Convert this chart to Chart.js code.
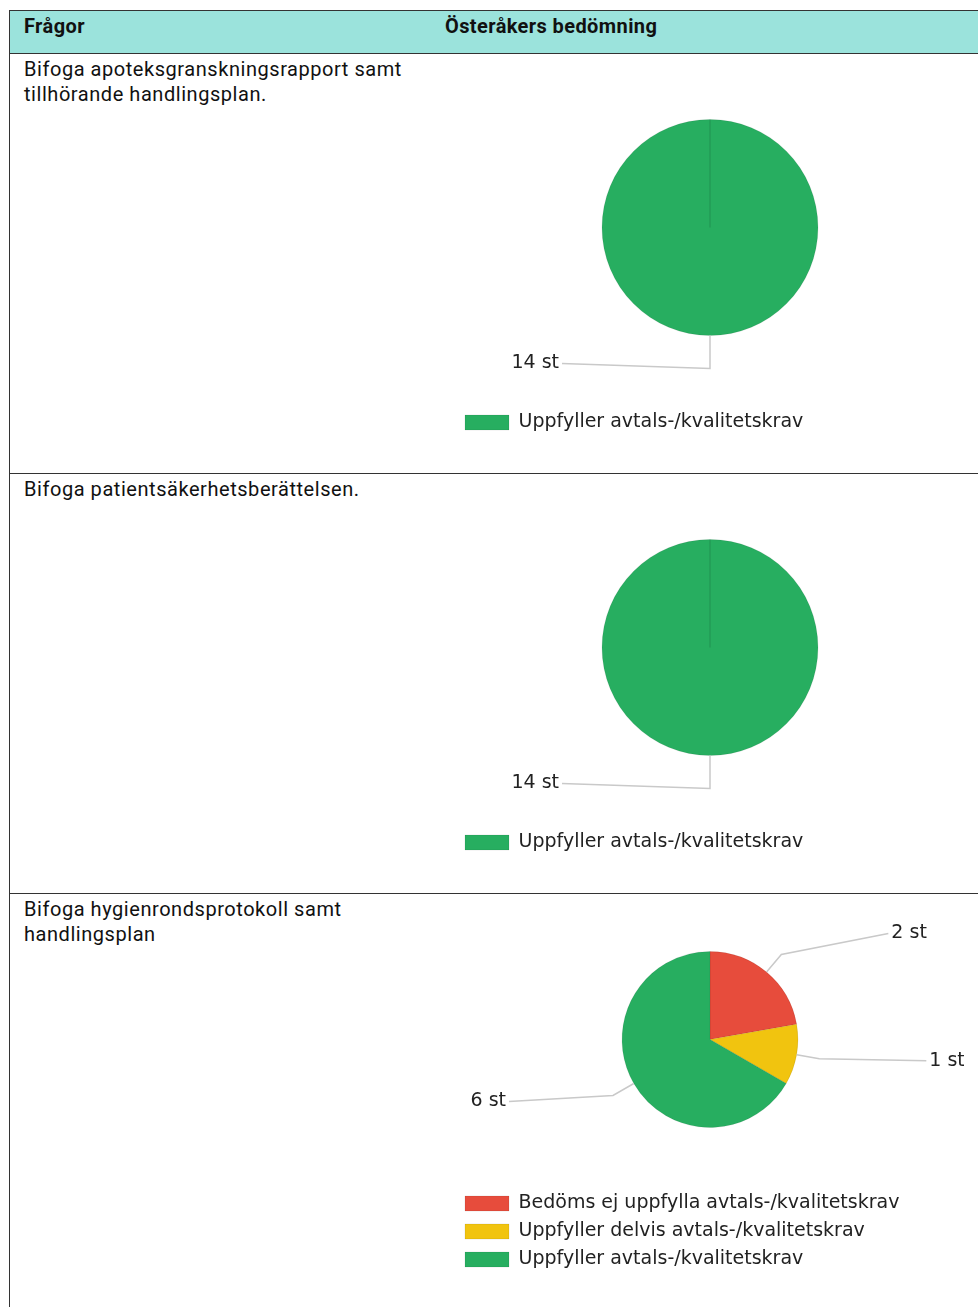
<!DOCTYPE html>
<html>
<head>
<meta charset="utf-8">
<script src="https://cdn.jsdelivr.net/npm/chart.js@4/dist/chart.umd.min.js"></script>
<style>
  body { margin: 0; background: #fff; width: 978px; height: 1307px; overflow: hidden; position: relative; font-family: Roboto, sans-serif; }
  .tbl { position: absolute; left: 9px; top: 10px; width: 1000px; height: 1310px; border-left: 1px solid #333; }
  .head { position: absolute; left: 0; top: 0; width: 100%; height: 42px; background: #9be3dc; border-top: 1px solid #333; border-bottom: 1px solid #333; font-weight: bold; font-size: 20px; letter-spacing: 0.4px; color: #111; }
  .head span { position: absolute; top: 3px; }
  .row { position: absolute; left: 0; width: 100%; border-bottom: 1px solid #333; }
  .q { position: absolute; left: 14px; top: 3px; font-size: 20px; letter-spacing: 0.55px; line-height: 25px; color: #111; }
  .box { position: absolute; }
</style>
</head>
<body>
<div class="tbl">
  <div class="head"><span style="left:14px">Frågor</span><span style="left:435px">Österåkers bedömning</span></div>
  <div class="row" style="top:44px;height:419px"><div class="q" id="q0"></div></div>
  <div class="row" style="top:464px;height:419px"><div class="q" id="q1"></div></div>
  <div class="row" style="top:884px;height:500px;border-bottom:none"><div class="q" id="q2"></div></div>
</div>
<div class="box" style="left:456px;top:51px;width:508px;height:391px"><canvas id="c0"></canvas></div>
<div class="box" style="left:456px;top:471px;width:508px;height:391px"><canvas id="c1"></canvas></div>
<div class="box" style="left:456px;top:894px;width:508px;height:385px"><canvas id="c2"></canvas></div>
<script>
// frågor i tabellen
var questions = [
  'Bifoga apoteksgranskningsrapport samt<br>tillhörande handlingsplan.',
  'Bifoga patientsäkerhetsberättelsen.',
  'Bifoga hygienrondsprotokoll samt<br>handlingsplan'
];

var labelsRed = 'Bedöms ej uppfylla avtals-/kvalitetskrav';
var labelsYellow = 'Uppfyller delvis avtals-/kvalitetskrav';
var labelsGreen = 'Uppfyller avtals-/kvalitetskrav';

var categories1 = [labelsGreen];
var values1 = [14];
var categories2 = [labelsGreen];
var values2 = [14];
var categories3 = [labelsRed, labelsYellow, labelsGreen];
var values3 = [2, 1, 6];

var colorMap = {};
colorMap[labelsRed] = '#e74c3c';
colorMap[labelsYellow] = '#f1c40f';
colorMap[labelsGreen] = '#27ae60';

for (var i = 0; i < questions.length; i++) {
  document.getElementById('q' + i).innerHTML = questions[i];
}

// etiketter med linjer, som i Excel
var leaderPlugin = {
  id: 'leader',
  afterDatasetsDraw: function(chart, args, opts) {
    var ctx = chart.ctx;
    var meta = chart.getDatasetMeta(0);
    var data = chart.data.datasets[0].data;
    ctx.save();
    meta.data.forEach(function(arc, i) {
      var p = arc.getProps(['x', 'y', 'startAngle', 'endAngle', 'outerRadius'], true);
      var mid = (p.startAngle + p.endAngle) / 2;
      var c = Math.cos(mid), s = Math.sin(mid);
      var x0 = p.x + c * p.outerRadius, y0 = p.y + s * p.outerRadius;
      var x1 = x0 + c * opts.ext[i], y1 = y0 + s * opts.ext[i];
      var dir = c > 0.01 ? 1 : -1;
      var x2 = x1 + dir * opts.run[i], y2 = y1 + opts.dy[i];
      ctx.strokeStyle = '#c9c9c9';
      ctx.lineWidth = 1.5;
      ctx.beginPath();
      ctx.moveTo(x0, y0);
      ctx.lineTo(x1, y1);
      ctx.lineTo(x2, y2);
      ctx.stroke();
      ctx.fillStyle = '#222';
      ctx.font = '19px "DejaVu Sans"';
      ctx.textBaseline = 'middle';
      ctx.textAlign = dir > 0 ? 'left' : 'right';
      ctx.fillText(data[i] + ' st', x2 + dir * 3, y2);
    });
    ctx.restore();
  }
};

function geraPizza(idGrafico, categorias, valores, raio, leader) {
  var ctx = document.getElementById(idGrafico).getContext('2d');
  return new Chart(ctx, {
    type: 'pie',
    data: {
      labels: categorias,
      datasets: [{
        data: valores,
        backgroundColor: categorias.map(function(c) { return colorMap[c]; }),
        borderColor: 'rgba(0,0,0,0.08)',
        borderWidth: 1,
        radius: raio
      }]
    },
    plugins: [leaderPlugin],
    options: {
      responsive: true,
      maintainAspectRatio: false,
      animation: false,
      layout: { padding: 0 },
      plugins: {
        tooltip: { enabled: false },
        leader: leader,
        legend: {
          position: 'bottom',
          align: 'start',
          labels: {
            boxWidth: 44,
            boxHeight: 15,
            padding: 9,
            color: '#222',
            font: { family: 'DejaVu Sans', size: 19 }
          }
        }
      }
    }
  });
}

geraPizza('c0', categories1, values1, 108, { ext: [33], run: [148], dy: [-5] });
geraPizza('c1', categories2, values2, 108, { ext: [33], run: [148], dy: [-5] });
geraPizza('c2', categories3, values3, 88, { ext: [23, 23, 24], run: [107, 107, 104], dy: [-21, 2, 6] });
</script>
</body>
</html>
